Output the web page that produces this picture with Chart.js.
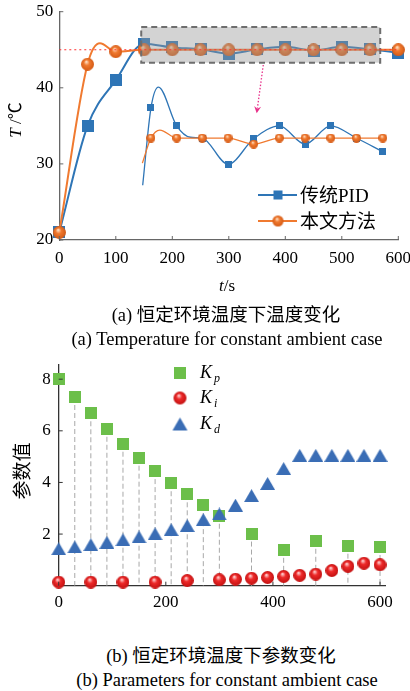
<!DOCTYPE html>
<html><head><meta charset="utf-8">
<script src="https://cdn.jsdelivr.net/npm/chart.js@4.4.0/dist/chart.umd.min.js"></script>
<style>
body{margin:0;background:#fff;width:410px;height:691px;position:relative;overflow:hidden;font-family:"Liberation Serif","Noto Sans CJK SC",serif;color:#000;}
.abs{position:absolute;white-space:nowrap;line-height:1;}
.c{transform:translate(-50%,-50%);}
.cjk{font-family:"Liberation Serif","Noto Sans CJK SC",serif;}
</style></head><body>
<canvas id="c1" width="410" height="280" style="position:absolute;left:0;top:0"></canvas>
<canvas id="c2" width="410" height="290" style="position:absolute;left:0;top:340px"></canvas>

<div class="abs" style="left:14.5px;top:120px;font-size:17px;transform:translate(-50%,-50%) rotate(-90deg);"><i>T</i> /℃</div>
<div class="abs c" style="left:227px;top:285px;font-size:17px;"><i>t</i>/s</div>
<div class="abs c cjk" style="left:226px;top:315px;font-size:18.5px;">(a) 恒定环境温度下温度变化</div>
<div class="abs c" style="left:227px;top:338.5px;font-size:18.5px;">(a) Temperature for constant ambient case</div>

<div class="abs" style="left:20px;top:471px;font-size:19px;font-family:'Noto Sans CJK SC',sans-serif;transform:translate(-50%,-50%) rotate(-90deg);">参数值</div>
<div class="abs c cjk" style="left:221px;top:655.5px;font-size:18.5px;">(b) 恒定环境温度下参数变化</div>
<div class="abs c" style="left:227px;top:680px;font-size:18.5px;">(b) Parameters for constant ambient case</div>

<div id="leg1"></div>
<div id="leg2"></div>

<script>
// ---------- data: chart (a) ----------
const timeTicks = [0, 100, 200, 300, 400, 500, 600];
const tempTicks = [20, 30, 40, 50];
const pidTime = [0, 50, 100, 150, 200, 250, 300, 350, 400, 450, 500, 550, 600];
const pidTemp = [21, 35, 41, 45.8, 45.3, 45.05, 44.5, 45.05, 45.4, 44.9, 45.4, 45.05, 44.6];
const oursTime = [0, 50, 72, 100, 150, 200, 250, 300, 350, 400, 450, 500, 550, 600];
const oursTemp = [21, 43.1, 45.85, 44.75, 45, 45, 45, 45, 45, 45, 45, 45, 45, 45];
const oursMarked = [1, 1, 0, 1, 1, 1, 1, 1, 1, 1, 1, 1, 1, 1];
const pidZoomTime = [147.6, 162.3, 175.5, 207.8, 232, 253, 298.6, 344, 389.5, 435, 480.4, 525.8, 572.5];
const pidZoomTemp = [27.2, 37.4, 40.1, 35.0, 33.5, 33.4, 29.95, 33.3, 35.0, 32.6, 35.0, 33.4, 31.6];
const pidZoomMarked = [0, 1, 0, 1, 0, 1, 1, 1, 1, 1, 1, 1, 1];
const oursZoomTime = [147, 162.3, 178, 207.8, 253, 298.6, 344, 389.5, 435, 480.4, 525.8, 572.5];
const oursZoomTemp = [30.1, 33.4, 34.45, 33.4, 33.4, 33.4, 32.6, 33.4, 33.4, 33.4, 33.4, 33.4];
const oursZoomMarked = [0, 1, 0, 1, 1, 1, 1, 1, 1, 1, 1, 1];
const setpoint = 45;
const zoomWindowTime = [145, 568];
const zoomWindowTemp = [43.3, 48.0];
const arrowTime = [361, 349.4];
const arrowTemp = [43.0, 36.65];
const seriesNames = ['传统PID', '本文方法'];

// ---------- data: chart (b) ----------
const paramTimeTicks = [0, 200, 400, 600];
const paramTicks = [2, 4, 6, 8];
const kpTime = [0, 30, 60, 90, 120, 150, 180, 210, 240, 270, 300, 360, 420, 480, 540, 600];
const kpValue = [8.0, 7.31, 6.68, 6.08, 5.50, 4.96, 4.44, 3.97, 3.54, 3.12, 2.71, 2.02, 1.39, 1.74, 1.55, 1.50];
const kiTime = [0, 60, 120, 180, 240, 300, 330, 360, 390, 420, 450, 480, 510, 540, 570, 600];
const kiValue = [0.14, 0.14, 0.14, 0.14, 0.20, 0.23, 0.25, 0.29, 0.32, 0.36, 0.40, 0.45, 0.59, 0.75, 0.87, 0.81];
const kdTime = [0, 30, 60, 90, 120, 150, 180, 210, 240, 270, 300, 330, 360, 390, 420, 450, 480, 510, 540, 570, 600];
const kdValue = [1.43, 1.50, 1.59, 1.68, 1.78, 1.89, 2.01, 2.17, 2.33, 2.56, 2.78, 3.12, 3.49, 3.96, 4.54, 5.05, 5.05, 5.05, 5.05, 5.05, 5.05];
const paramNames = ['p', 'i', 'd'];

// ---------- styles ----------
const BLUE = '#2e75b6', ORANGE = '#f07a30', GREEN = '#6cbf4a', KD_BLUE = '#3a6db5';

function sq(d, col) {
  const cv = document.createElement('canvas'); cv.width = cv.height = d;
  const g = cv.getContext('2d'); g.fillStyle = col; g.fillRect(0, 0, d, d); return cv;
}
function sphere(d, hi, base, edge) {
  const cv = document.createElement('canvas'); cv.width = cv.height = d;
  const g = cv.getContext('2d'); const r = d / 2;
  const grd = g.createRadialGradient(r * 0.8, r * 0.6, r * 0.05, r, r, r);
  grd.addColorStop(0, hi); grd.addColorStop(0.4, base); grd.addColorStop(1, edge);
  g.fillStyle = grd; g.beginPath(); g.arc(r, r, r, 0, Math.PI * 2); g.fill(); return cv;
}
function tri(w, h, col) {
  const cv = document.createElement('canvas'); cv.width = w; cv.height = h;
  const g = cv.getContext('2d'); g.fillStyle = col; g.beginPath();
  g.moveTo(w / 2, 0); g.lineTo(w, h); g.lineTo(0, h); g.closePath(); g.fill(); return cv;
}
const xy = (xs, ys) => xs.map((x, i) => ({x, y: ys[i]}));

const insideTicks = {
  id: 'insideTicks',
  afterDraw(chart, args, o) {
    const ctx = chart.ctx, a = chart.chartArea, sx = chart.scales.x, sy = chart.scales.y;
    ctx.save(); ctx.strokeStyle = o.color; ctx.lineWidth = 1;
    sx.ticks.forEach(t => { const p = sx.getPixelForValue(t.value); ctx.beginPath(); ctx.moveTo(p, a.bottom); ctx.lineTo(p, a.bottom - o.len); ctx.stroke(); });
    sy.ticks.forEach(t => { const p = sy.getPixelForValue(t.value); ctx.beginPath(); ctx.moveTo(a.left, p); ctx.lineTo(a.left + o.len, p); ctx.stroke(); });
    ctx.restore();
  }
};

function fixedScale(ticks, min, max, size, pad, isY, borderColor) {
  return {
    type: 'linear', min, max,
    afterBuildTicks: s => { s.ticks = ticks.map(v => ({value: v})); },
    afterFit: s => {
      if (isY) s.width = size; else s.height = size;
      s.paddingLeft = 0; s.paddingRight = 0; s.paddingTop = 0; s.paddingBottom = 0;
    },
    ticks: {font: {family: 'Liberation Serif', size: 17}, color: '#000', padding: pad, maxRotation: 0, autoSkip: false},
    grid: {display: true, drawOnChartArea: false, drawTicks: false},
    border: {display: true, color: borderColor, width: 1.3}
  };
}

// ---------- chart (a) ----------
const sqBig = sq(12, BLUE), sqSmall = sq(7, BLUE);
const spBig = sphere(13, '#ffe3c8', ORANGE, '#d55a14'), spSmall = sphere(9, '#ffe3c8', ORANGE, '#d55a14');

const windowPlugin = {
  id: 'windowPlugin',
  afterDatasetsDraw(chart) {
    const ctx = chart.ctx, sx = chart.scales.x, sy = chart.scales.y;
    const x0 = sx.getPixelForValue(zoomWindowTime[0]), x1 = sx.getPixelForValue(zoomWindowTime[1]);
    const y0 = sy.getPixelForValue(zoomWindowTemp[1]), y1 = sy.getPixelForValue(zoomWindowTemp[0]);
    ctx.save();
    ctx.fillStyle = 'rgba(150,150,150,0.42)'; ctx.fillRect(x0, y0, x1 - x0, y1 - y0);
    ctx.setLineDash([6, 4]); ctx.strokeStyle = '#6e6e6e'; ctx.lineWidth = 2; ctx.strokeRect(x0, y0, x1 - x0, y1 - y0);
    ctx.setLineDash([2, 3]); ctx.strokeStyle = '#ff3030'; ctx.lineWidth = 1;
    const ys = sy.getPixelForValue(setpoint);
    ctx.beginPath(); ctx.moveTo(sx.getPixelForValue(0), ys); ctx.lineTo(sx.getPixelForValue(600), ys); ctx.stroke();
    const ax0 = sx.getPixelForValue(arrowTime[0]), ay0 = sy.getPixelForValue(arrowTemp[0]);
    const ax1 = sx.getPixelForValue(arrowTime[1]), ay1 = sy.getPixelForValue(arrowTemp[1]);
    const ang = Math.atan2(ay1 - ay0, ax1 - ax0);
    ctx.setLineDash([1.5, 1.8]); ctx.strokeStyle = '#e8318a'; ctx.lineWidth = 1.3;
    ctx.beginPath(); ctx.moveTo(ax0, ay0); ctx.lineTo(ax1 - 5 * Math.cos(ang), ay1 - 5 * Math.sin(ang)); ctx.stroke();
    ctx.setLineDash([]); ctx.fillStyle = '#e8318a'; ctx.beginPath();
    ctx.moveTo(ax1, ay1);
    ctx.lineTo(ax1 - 7 * Math.cos(ang) + 3.5 * Math.sin(ang), ay1 - 7 * Math.sin(ang) - 3.5 * Math.cos(ang));
    ctx.lineTo(ax1 - 4.5 * Math.cos(ang), ay1 - 4.5 * Math.sin(ang));
    ctx.lineTo(ax1 - 7 * Math.cos(ang) - 3.5 * Math.sin(ang), ay1 - 7 * Math.sin(ang) + 3.5 * Math.cos(ang));
    ctx.closePath(); ctx.fill();
    ctx.restore();
  }
};

const lineDs = (data, color, w, style, radii, order) => ({
  data, order, showLine: true, borderColor: color, backgroundColor: color, borderWidth: w,
  pointStyle: style, pointRadius: radii, pointHoverRadius: radii,
  cubicInterpolationMode: 'monotone', fill: false, clip: false
});

new Chart(document.getElementById('c1'), {
  type: 'scatter',
  data: {datasets: [
    lineDs(xy(pidTime, pidTemp), BLUE, 2, sqBig, pidTime.map(() => 6), 3),
    lineDs(xy(oursTime, oursTemp), ORANGE, 2, spBig, oursMarked.map(m => m ? 6 : 0), 2),
    lineDs(xy(pidZoomTime, pidZoomTemp), BLUE, 1.3, sqSmall, pidZoomMarked.map(m => m ? 4 : 0), 1),
    lineDs(xy(oursZoomTime, oursZoomTemp), ORANGE, 1.3, spSmall, oursZoomMarked.map(m => m ? 4 : 0), 0)
  ]},
  options: {
    responsive: false, animation: false, devicePixelRatio: 1, events: [],
    layout: {padding: {left: 0, right: 11.7, top: 11.7, bottom: 0}},
    plugins: {legend: {display: false}, tooltip: {enabled: false}, insideTicks: {color: '#666', len: 4}},
    scales: {
      x: fixedScale(timeTicks, 0, 600, 40, 8, false, '#666'),
      y: fixedScale(tempTicks, 20, 50, 59.3, 6, true, '#666')
    }
  },
  plugins: [insideTicks, windowPlugin]
});

// ---------- chart (b) ----------
const kpMk = sq(12, GREEN), kiMk = sphere(13, '#ffd6d6', '#ee2a2a', '#c21010'), kdMk = tri(15, 13, KD_BLUE);

const stems = {
  id: 'stems',
  beforeDatasetsDraw(chart) {
    const ctx = chart.ctx, sx = chart.scales.x, sy = chart.scales.y;
    ctx.save(); ctx.setLineDash([5, 3]); ctx.strokeStyle = '#a8a8a8'; ctx.lineWidth = 1;
    kpTime.forEach((t, i) => {
      if (t === 0) return;
      const px = sx.getPixelForValue(t);
      ctx.beginPath(); ctx.moveTo(px, sy.getPixelForValue(kpValue[i])); ctx.lineTo(px, sy.getPixelForValue(0)); ctx.stroke();
    });
    ctx.restore();
  }
};

const markDs = (data, style, order) => ({data, order, showLine: false, pointStyle: style, pointRadius: 6, pointHoverRadius: 6, clip: false});

new Chart(document.getElementById('c2'), {
  type: 'scatter',
  data: {datasets: [
    markDs(xy(kpTime, kpValue), kpMk, 2),
    markDs(xy(kiTime, kiValue), kiMk, 1),
    markDs(xy(kdTime, kdValue), kdMk, 0)
  ]},
  options: {
    responsive: false, animation: false, devicePixelRatio: 1, events: [],
    layout: {padding: {left: 0, right: 24.6, top: 25, bottom: 0}},
    plugins: {legend: {display: false}, tooltip: {enabled: false}, insideTicks: {color: '#333', len: 4}},
    scales: {
      x: fixedScale(paramTimeTicks, 0, 610, 44.3, 7, false, '#333'),
      y: fixedScale(paramTicks, 0, 8.55, 58.7, 8, true, '#333')
    }
  },
  plugins: [insideTicks, stems]
});

// ---------- legends (HTML) ----------
function place(el, x, y) { el.style.position = 'absolute'; el.style.left = x + 'px'; el.style.top = y + 'px'; el.style.transform = 'translate(-50%,-50%)'; return el; }
const leg1 = document.getElementById('leg1');
[[BLUE, sq(9, BLUE), 195], [ORANGE, sphere(11, '#ffe3c8', ORANGE, '#d55a14'), 220.7]].forEach((r, i) => {
  const line = document.createElement('div');
  line.style.cssText = `position:absolute;left:258px;top:${r[2] - 1}px;width:39px;height:2px;background:${r[0]}`;
  leg1.appendChild(line);
  leg1.appendChild(place(r[1], 277.5, r[2]));
  const t = document.createElement('div'); t.className = 'abs cjk';
  t.style.cssText += `left:300px;top:${r[2]}px;font-size:19px;transform:translateY(-50%)`;
  t.textContent = seriesNames[i]; leg1.appendChild(t);
});
const leg2 = document.getElementById('leg2');
[[sq(12, GREEN), 373], [sphere(13, '#ffd6d6', '#ee2a2a', '#c21010'), 398.3], [tri(15, 13, KD_BLUE), 424.3]].forEach((r, i) => {
  leg2.appendChild(place(r[0], 180, r[1]));
  const t = document.createElement('div'); t.className = 'abs';
  t.style.cssText += `left:200px;top:${r[1]}px;font-size:18px;transform:translateY(-50%)`;
  t.innerHTML = `<i>K</i><sub style="font-size:12px;font-style:italic;vertical-align:-4px;margin-left:2px">${paramNames[i]}</sub>`;
  leg2.appendChild(t);
});
</script>
</body></html>
